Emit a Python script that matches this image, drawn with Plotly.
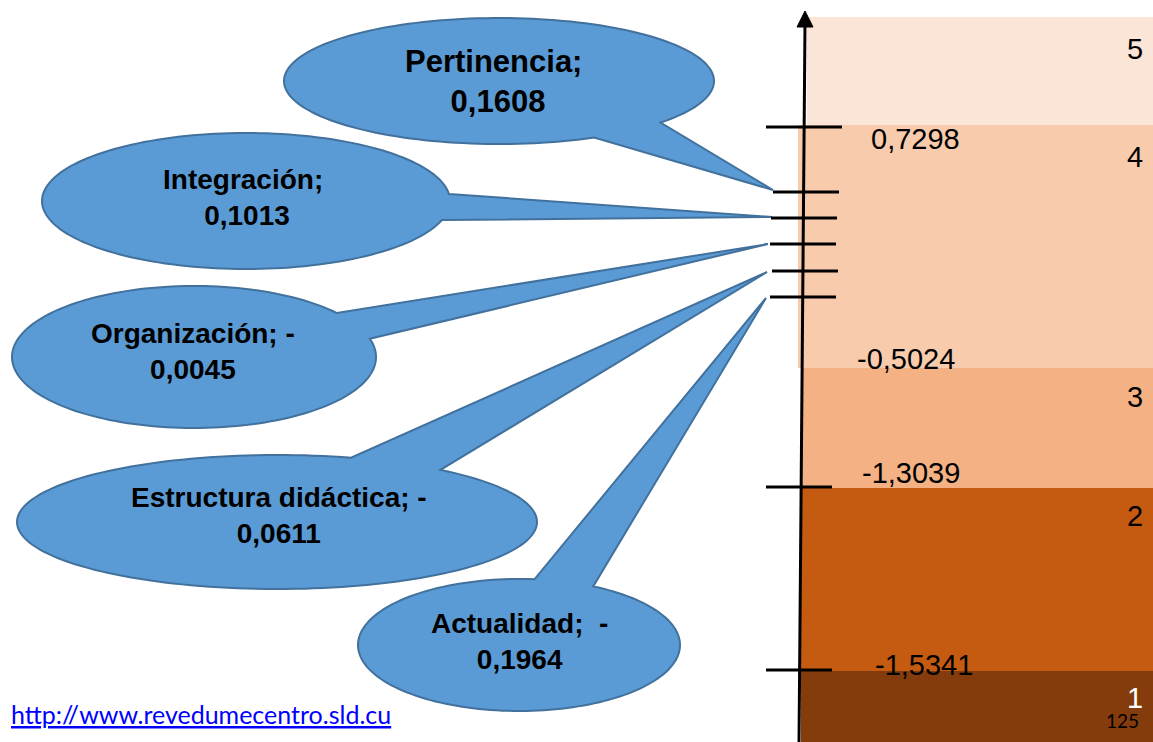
import math
import plotly.graph_objects as go

# ---------------- data ----------------
criteria = ["Pertinencia", "Integración", "Organización", "Estructura didáctica", "Actualidad"]
criteria_values = [0.1608, 0.1013, -0.0045, -0.0611, -0.1964]
label_separators = ["; ", "; ", "; ", "; ", ";\u00a0 "]
thresholds = [0.7298, -0.5024, -1.3039, -1.5341]
levels = [5, 4, 3, 2, 1]
page_number = "125"
url = "http://www.revedumecentro.sld.cu"

# ---------------- layout geometry (pixel canvas) ----------------
W, H = 1153, 742
band_colors = ["#FBE5D6", "#F8CBAD", "#F4B183", "#C55A11", "#843C0C"]
band_edges = [17, 125, 368, 488, 671, 742]          # top of band 5 ... bottom of band 1
band_left = [807, 798, 801, 801, 801]
level_label_y = [49, 157, 397, 516, 698]
level_label_color = ["black", "black", "black", "black", "white"]
threshold_label_xy = [(915, 139), (906, 359), (911, 473), (924, 665)]
threshold_tick = [(766, 842, 127), None, (766, 832, 487), (766, 832, 670)]
criteria_tick = [(773, 839, 192), (771, 837, 218), (770, 836, 244), (772, 838, 271), (770, 836, 297)]

# callout ellipses: center, radii, tail attach points, tip, text position, font size
callouts = [
    dict(c=(499, 81), r=(215, 63), a=(662, 123), b=(595, 138), tip=(773, 190), t=(498, 81), fs=31),
    dict(c=(246, 201), r=(204, 68), a=(447, 194), b=(441, 220), tip=(772, 217), t=(247, 197), fs=28),
    dict(c=(194, 357), r=(182, 71), a=(337, 313), b=(367, 339), tip=(768, 244), t=(193, 351), fs=28),
    dict(c=(277, 522), r=(260, 67), a=(352, 457), b=(437, 471), tip=(767, 272), t=(279, 515), fs=28),
    dict(c=(519, 645), r=(161, 66), a=(535, 577), b=(595, 585), tip=(766, 298), t=(519, 641), fs=28),
]

FILL = "#5B9BD5"
EDGE = "#41719C"


def fmt(v):
    return f"{abs(v):.4f}".replace(".", ",")


def callout_path(c, r, a, b, tip, n=160):
    cx, cy = c
    rx, ry = r
    ang = lambda p: math.atan2((p[1] - cy) / ry, (p[0] - cx) / rx)
    ta, tb, tt = ang(a), ang(b), ang(tip)
    two = 2 * math.pi
    d = (tb - ta) % two
    if (tt - ta) % two < d:      # tip lies on positive arc -> go the other way
        d = d - two
    pts = [tip]
    for i in range(n + 1):
        t = ta + d * i / n
        pts.append((cx + rx * math.cos(t), cy + ry * math.sin(t)))
    return "M " + " L ".join(f"{x:.2f},{y:.2f}" for x, y in pts) + " Z"


fig = go.Figure()
fig.add_trace(go.Scatter(x=[0, W], y=[0, H], mode="markers", marker=dict(opacity=0), hoverinfo="skip"))

shapes = []
for i, col in enumerate(band_colors):
    shapes.append(dict(type="rect", xref="x", yref="y", x0=band_left[i], x1=W + 2,
                       y0=band_edges[i], y1=band_edges[i + 1], fillcolor=col, line=dict(width=0), layer="below"))

for co in callouts:
    shapes.append(dict(type="path", xref="x", yref="y",
                       path=callout_path(co["c"], co["r"], co["a"], co["b"], co["tip"]),
                       fillcolor=FILL, line=dict(color=EDGE, width=2)))

shapes.append(dict(type="line", xref="x", yref="y", x0=799, y0=H + 2, x1=805, y1=24,
                   line=dict(color="black", width=3)))
shapes.append(dict(type="path", xref="x", yref="y", path="M 805,11 L 813,27 L 797,27 Z",
                   fillcolor="black", line=dict(color="black", width=1)))

for tk in threshold_tick + criteria_tick:
    if tk is None:
        continue
    x0, x1, y = tk
    shapes.append(dict(type="line", xref="x", yref="y", x0=x0, x1=x1, y0=y, y1=y,
                       line=dict(color="black", width=3)))

annotations = []
for i, lv in enumerate(levels):
    annotations.append(dict(x=1135, y=level_label_y[i], xref="x", yref="y", text=str(lv), showarrow=False,
                            xanchor="center", yanchor="middle",
                            font=dict(family="Liberation Sans, Arial", size=29, color=level_label_color[i])))
for i, th in enumerate(thresholds):
    x, y = threshold_label_xy[i]
    annotations.append(dict(x=x, y=y, xref="x", yref="y", text=f"{th:.4f}".replace(".", ","), showarrow=False,
                            xanchor="center", yanchor="middle",
                            font=dict(family="Liberation Sans, Arial", size=29, color="black")))
for k, co in enumerate(callouts):
    v = criteria_values[k]
    sign = "-" if v < 0 else ""
    text = f"{criteria[k]}{label_separators[k]}{sign}<br>{fmt(v)}"
    annotations.append(dict(x=co["t"][0], y=co["t"][1], xref="x", yref="y", text=text, showarrow=False,
                            xanchor="center", yanchor="middle", align="center",
                            font=dict(family="Liberation Sans, Arial", size=co["fs"], color="black", weight="bold")))
annotations.append(dict(x=9, y=714, xref="x", yref="y", text=f"<u>{url}</u>", showarrow=False,
                        xanchor="left", yanchor="middle",
                        font=dict(family="Lato, Carlito, sans-serif", size=25, color="#0000FF")))
annotations.append(dict(x=1122, y=720, xref="x", yref="y", text=page_number, showarrow=False,
                        xanchor="center", yanchor="middle",
                        font=dict(family="Lato, sans-serif", size=19, color="black")))

fig.update_layout(
    width=W, height=H, margin=dict(l=0, r=0, t=0, b=0, pad=0),
    paper_bgcolor="white", plot_bgcolor="white", showlegend=False,
    xaxis=dict(range=[0, W], visible=False, fixedrange=True),
    yaxis=dict(range=[H, 0], visible=False, fixedrange=True),
    shapes=shapes, annotations=annotations,
)

fig.write_html("out.html", config={"displayModeBar": False},
               post_script="document.body.style.margin='0';")
